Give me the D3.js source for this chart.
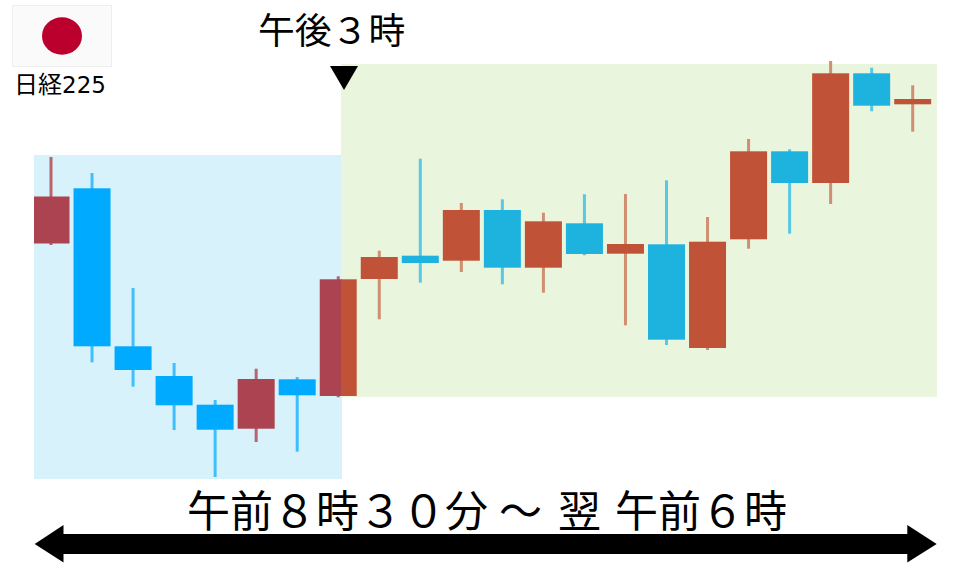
<!DOCTYPE html>
<html>
<head>
<meta charset="utf-8">
<script src="https://d3js.org/d3.v7.min.js"></script>
<style>
html, body { margin: 0; padding: 0; background: #fff; }
svg { display: block; }
text { font-family: "Noto Sans CJK JP", sans-serif; fill: #000; }
</style>
</head>
<body>
<svg id="svg1" width="960" height="567"></svg>
<script>
// candle values
var opens = [323.5, 378.7, 220.7, 191, 162.3, 138.3, 187.7, 171, 288, 311.3, 306.3, 357, 299.3, 343.7, 313.3, 322.7, 219, 327.7, 415.7, 384, 493.7, 462.7];
var closes = [370.5, 220.7, 197, 161.7, 137.3, 188, 171.7, 287.7, 310, 304, 357, 299.3, 345.7, 313, 323, 227.3, 325.3, 415.7, 384, 493.7, 461.3, 468];
var highs = [410, 394, 279, 204, 167, 198.3, 190, 290.7, 316.3, 408.3, 364, 367.7, 354.3, 372.7, 373, 386.7, 350, 428, 417.7, 506, 499.3, 481.7];
var lows = [322, 204.7, 180.3, 137, 90, 125, 115.3, 169.7, 247.7, 284.3, 295, 282.7, 274.3, 311.7, 241.7, 222, 217, 318.3, 333.3, 363, 455.7, 435.3];

// morning session and afternoon session backgrounds
var sessionNames = ["am", "pm"];
var sessionTop = [412, 503];
var sessionBottom = [88, 170];
var sessionLeft = [34, 341];
var sessionRight = [342, 937];
var sessionFill = ["#d8f2fc", "#e9f5dc"];
var upBody = ["#ab4350", "#c05337"];
var downBody = ["#00aaff", "#1eb2de"];
var upWick = ["#b8646f", "#d08e72"];
var downWick = ["#40bfff", "#58c8e4"];

var flagName = "日経";
var flagNumber = "225";
var topLabel = "午後３時";
var bottomParts = ["午前８時３０分", "～", "翌", "午前６時"];
var bottomPartX = [187, 499, 558, 615];

var svg = d3.select("#svg1");
var candleIdx = d3.range(opens.length);

var x = d3.scaleLinear().domain([0, 21]).range([51, 912.7]);
var y = d3.scaleLinear().domain([0, 567]).range([567, 0]);
var bodyWidth = 37;

// flag
svg.append("rect")
    .attr("x", 12.5).attr("y", 5.5)
    .attr("width", 99).attr("height", 61)
    .style("fill", "#fafafa")
    .style("stroke", "#eeeeee");
svg.append("ellipse")
    .attr("cx", 62).attr("cy", 36)
    .attr("rx", 20).attr("ry", 18.7)
    .style("fill", "#bc002d");
var flagText = svg.append("text")
    .attr("x", 14).attr("y", 93)
    .attr("font-size", 24);
flagText.append("tspan").text(flagName);
flagText.append("tspan")
    .style("font-family", "'DejaVu Sans'")
    .attr("font-size", 23)
    .text(flagNumber);

// session panels
svg.selectAll("rect.panel")
    .data(sessionNames)
  .enter().append("rect")
    .attr("class", "panel")
    .attr("x", function(d, i) { return sessionLeft[i]; })
    .attr("width", function(d, i) { return sessionRight[i] - sessionLeft[i]; })
    .attr("y", function(d, i) { return y(sessionTop[i]); })
    .attr("height", function(d, i) { return y(sessionBottom[i]) - y(sessionTop[i]); })
    .style("fill", function(d, i) { return sessionFill[i]; });

// one clip per session, the candle on the boundary is tinted on each side
svg.append("defs").selectAll("clipPath")
    .data(sessionNames)
  .enter().append("clipPath")
    .attr("id", function(d) { return "clip-" + d; })
  .append("rect")
    .attr("x", function(d, i) { return sessionLeft[i]; })
    .attr("width", function(d, i) { return sessionRight[i] - sessionLeft[i]; })
    .attr("y", 0)
    .attr("height", 567);

sessionNames.forEach(function(name, s) {
  var g = svg.append("g").attr("clip-path", "url(#clip-" + name + ")");

  g.selectAll("line")
      .data(candleIdx)
    .enter().append("line")
      .attr("x1", function(i) { return x(i); })
      .attr("x2", function(i) { return x(i); })
      .attr("y1", function(i) { return y(highs[i]); })
      .attr("y2", function(i) { return y(lows[i]); })
      .style("stroke-width", 3)
      .style("stroke", function(i) { return closes[i] > opens[i] ? upWick[s] : downWick[s]; });

  g.selectAll("rect")
      .data(candleIdx)
    .enter().append("rect")
      .attr("x", function(i) { return x(i) - bodyWidth / 2; })
      .attr("width", bodyWidth)
      .attr("y", function(i) { return y(Math.max(opens[i], closes[i])); })
      .attr("height", function(i) { return Math.abs(y(opens[i]) - y(closes[i])); })
      .style("fill", function(i) { return closes[i] > opens[i] ? upBody[s] : downBody[s]; });
});

// 3pm marker
svg.append("text")
    .attr("x", 258).attr("y", 44)
    .attr("font-size", 36.8)
    .text(topLabel);
svg.append("path")
    .attr("d", "M330,66L358,66L344,90Z")
    .style("fill", "#000");

// time span arrow
svg.append("path")
    .attr("d", "M34.7,544L63.5,525L63.5,534L907.3,534L907.3,525L936.7,544L907.3,562.5L907.3,554L63.5,554L63.5,562.5Z")
    .style("fill", "#000");
svg.append("text")
    .attr("y", 527)
    .attr("font-size", 43)
  .selectAll("tspan")
    .data(bottomParts)
  .enter().append("tspan")
    .attr("x", function(d, i) { return bottomPartX[i]; })
    .text(function(d) { return d; });
</script>
</body>
</html>
